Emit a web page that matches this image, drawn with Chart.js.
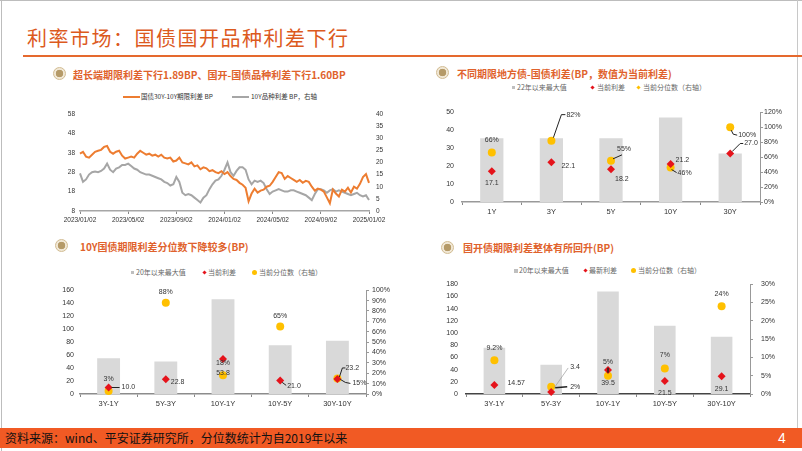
<!DOCTYPE html>
<html>
<head>
<meta charset="utf-8">
<script src="https://cdn.jsdelivr.net/npm/chart.js@4.4.1/dist/chart.umd.min.js"></script>
<style>
  body { margin: 0; }
  #slide { position: relative; width: 802px; height: 451px; background: #fff; overflow: hidden;
           font-family: "Noto Sans CJK SC", "Noto Sans", sans-serif; }
  .abs { position: absolute; }
  .ptitle { position: absolute; font-size: 10px; font-weight: bold; color: #E0622C; white-space: nowrap; line-height: 14px; }
  .icon { position: absolute; width: 11px; height: 11px; border-radius: 50%; border: 1.5px solid #D2BC92;
          background: radial-gradient(circle, #B59A68 0 45%, #F1E8D6 52%); }
  .lg { position: absolute; font-size: 7px; color: #666; white-space: nowrap; line-height: 9px; }
  canvas { position: absolute; }
</style>
</head>
<body>
<div id="slide">
  <!-- frame -->
  <div class="abs" style="left:0;top:0;width:802px;height:1px;background:#BDBDBD"></div>
  <div class="abs" style="left:1px;top:0;width:1px;height:451px;background:#BDBDBD"></div>
  <div class="abs" style="left:797px;top:0;width:1px;height:428px;background:#C8C8C8"></div>

  <div class="abs" style="left:27px;top:24px;font-size:20px;letter-spacing:1.5px;color:#DC5A1E;line-height:28px;white-space:nowrap">利率市场：国债国开品种利差下行</div>
  <div class="abs" style="left:23px;top:55px;width:779px;height:2px;background:#E5692E"></div>

  <!-- panel titles -->
  <div class="icon" style="left:53px;top:67px"></div>
  <div class="ptitle" style="left:73px;top:68px">超长端期限利差下行1.89BP、国开-国债品种利差下行1.60BP</div>
  <div class="icon" style="left:436px;top:66px"></div>
  <div class="ptitle" style="left:457px;top:67px">不同期限地方债-国债利差(BP，数值为当前利差)</div>
  <div class="icon" style="left:55px;top:239px"></div>
  <div class="ptitle" style="left:80px;top:240px">10Y国债期限利差分位数下降较多(BP)</div>
  <div class="icon" style="left:441px;top:241px"></div>
  <div class="ptitle" style="left:463px;top:241px">国开债期限利差整体有所回升(BP)</div>

  <!-- legend chart 1 -->
  <div class="abs" style="left:123px;top:96px;width:17px;height:2px;background:#ED7D31"></div>
  <div class="lg" style="left:141px;top:92px;font-size:6.5px;color:#333">国债30Y-10Y期限利差 BP</div>
  <div class="abs" style="left:232px;top:96px;width:17px;height:2px;background:#A6A6A6"></div>
  <div class="lg" style="left:251px;top:92px;font-size:6.5px;color:#333">10Y品种利差 BP，右轴</div>

  <!-- legend chart 2 -->
  <div class="abs" style="left:512px;top:86px;width:3px;height:3px;background:#BFBFBF"></div>
  <div class="lg" style="left:517px;top:83px">22年以来最大值</div>
  <div class="abs" style="left:591px;top:86px;width:3px;height:3px;background:#E5131B;transform:rotate(45deg)"></div>
  <div class="lg" style="left:597px;top:83px">当前利差</div>
  <div class="abs" style="left:637px;top:86px;width:3px;height:3px;background:#FFC000;transform:rotate(45deg)"></div>
  <div class="lg" style="left:643px;top:83px">当前分位数（右轴）</div>

  <!-- legend chart 3 -->
  <div class="abs" style="left:131px;top:271px;width:3px;height:3px;background:#BFBFBF"></div>
  <div class="lg" style="left:136px;top:268px">20年以来最大值</div>
  <div class="abs" style="left:203px;top:271px;width:3px;height:3px;background:#E5131B;transform:rotate(45deg)"></div>
  <div class="lg" style="left:208px;top:268px">当前利差</div>
  <div class="abs" style="left:252px;top:270px;width:5px;height:5px;border-radius:50%;background:#FFC000"></div>
  <div class="lg" style="left:259px;top:268px">当前分位数（右轴）</div>

  <!-- legend chart 4 -->
  <div class="abs" style="left:514px;top:269px;width:4px;height:4px;background:#BFBFBF"></div>
  <div class="lg" style="left:519px;top:266px">20年以来最大值</div>
  <div class="abs" style="left:584px;top:269px;width:3px;height:3px;background:#E5131B;transform:rotate(45deg)"></div>
  <div class="lg" style="left:589px;top:266px">最新利差</div>
  <div class="abs" style="left:631px;top:268px;width:5px;height:5px;border-radius:50%;background:#FFC000"></div>
  <div class="lg" style="left:638px;top:266px">当前分位数（右轴）</div>

  <canvas id="c1" width="350" height="125" style="left:50px;top:103px"></canvas>
  <canvas id="c2" width="400" height="118" style="left:400px;top:100px"></canvas>
  <canvas id="c3" width="350" height="130" style="left:50px;top:280px"></canvas>
  <canvas id="c4" width="400" height="138" style="left:400px;top:272px"></canvas>

  <!-- footer -->
  <div class="abs" style="left:0;top:428px;width:802px;height:20px;background:#F15A24"></div>
  <div class="abs" style="left:5px;top:429px;font-size:12px;line-height:18px;color:#111;white-space:nowrap">资料来源：wind、平安证券研究所，分位数统计为自2019年以来</div>
  <div class="abs" style="left:778px;top:428px;font-size:14px;line-height:20px;color:#fff;font-family:'Liberation Sans',Arial,sans-serif">4</div>
</div>

<script>
// ---------- data ----------
const dateTicks = ['2023/01/02', '2023/05/02', '2023/09/02', '2024/01/02', '2024/05/02', '2024/09/02', '2025/01/02'];
const tickEvery = 16;

// 国债30Y-10Y期限利差 BP (left axis)
const spread30y10y = [
  37.5, 38.5, 36, 35.5, 37, 38.5, 39, 39.5, 41, 41.5, 38.5, 37.5, 38.5, 39, 36.5, 35,
  35.5, 36, 35.5, 37.5, 39, 38, 37, 37.5, 36.5, 37, 36, 37, 35.5, 35, 35.5, 33.5,
  34, 35.5, 33, 32.5, 32, 33, 31, 31.5, 29.5, 30.5, 30, 28.5, 29, 28, 27.5, 28.5,
  27, 28, 26, 24.5, 24, 22.5, 21.5, 20, 13, 17, 19.5, 17.5, 18.5, 19, 20.5, 21,
  23, 25.5, 28, 27.5, 24.5, 26, 25, 24, 23, 24, 22.5, 23.5, 23, 20.5, 18.5, 19.5,
  19, 18, 15, 12, 19, 17, 15.5, 19, 18, 20, 17.5, 20.5, 19.5, 22, 25.5, 27, 22.5
];
// 10Y品种利差 BP (right axis)
const spread10yKind = [
  15.5, 12, 13, 15, 16, 16.3, 16, 16.5, 17.5, 19.5, 17, 16, 17.5, 18, 19, 19,
  19.5, 18.5, 17.5, 17, 16, 15.5, 15, 15, 14.5, 14, 13.5, 13, 12, 11.5, 10.5, 11,
  14, 12, 7.5, 6.5, 7, 6.5, 5.5, 4.5, 3.5, 5.5, 6.5, 9, 11, 12.5, 13, 14.5,
  17, 20, 16, 14.5, 16.5, 18, 18, 17, 13, 11, 12.5, 12, 12.5, 11.5, 9, 7,
  8, 8.5, 9, 8.5, 8, 8, 8.5, 8.5, 8, 7.5, 7, 6.5, 5.5, 4.5, 7, 9,
  9, 8.5, 7.5, 8.5, 9, 8, 8.5, 8, 7.5, 7, 6.5, 7, 7.5, 6.5, 6, 6.5, 4.5
];

const localTerms = ['1Y', '3Y', '5Y', '10Y', '30Y'];
const localMax = [35.5, 35.5, 35.5, 47, 27.0];
const localNow = [17.1, 22.1, 18.2, 21.2, 27.0];
const localPct = [0.66, 0.82, 0.55, 0.46, 1.00];

const govTerms = ['3Y-1Y', '5Y-3Y', '10Y-1Y', '10Y-5Y', '30Y-10Y'];
const govMax = [55, 50, 146, 75, 82];
const govNow = [10.0, 22.8, 53.8, 21.0, 23.2];
const govPct = [0.03, 0.88, 0.18, 0.65, 0.15];

const cdbTerms = ['3Y-1Y', '5Y-3Y', '10Y-1Y', '10Y-5Y', '30Y-10Y'];
const cdbMax = [76, 48, 168, 112, 94];
const cdbNow = [14.57, 3.4, 39.5, 21.5, 29.1];
const cdbPct = [0.092, 0.02, 0.05, 0.07, 0.24];

// ---------- label placement (pixel offsets from each point) ----------
const localNowPos = [
  { dx: 0, dy: 12 },
  { dx: 10, dy: 4, align: 'left' },
  { dx: 4, dy: 10, align: 'left' },
  { dx: 5, dy: -4, align: 'left' },
  { dx: 14, dy: -10, align: 'left', line: [[2, -2], [10, -10], [13, -10]] }
];
const localPctPos = [
  { dx: 0, dy: -13 },
  { dx: 15, dy: -26, align: 'left', line: [[2, -3], [10, -26], [14, -26]] },
  { dx: 6, dy: -12, align: 'left', line: [[2, -2], [11, -6]] },
  { dx: 7, dy: 5, align: 'left', line: [[1, 2], [6, 5]] },
  { dx: 8, dy: 8, align: 'left', line: [[1, 3], [3, 7], [7, 8]] }
];
const govNowPos = [
  { dx: 13, dy: 0, align: 'left', line: [[3, 0], [11, 0]] },
  { dx: 5, dy: 3, align: 'left' },
  { dx: 0, dy: 14 },
  { dx: 7, dy: 6, align: 'left', line: [[2, 2], [6, 5]] },
  { dx: 8, dy: -11, align: 'left', line: [[2, -2], [5, -11], [8, -11]] }
];
const govPctPos = [
  { dx: 0, dy: -12 },
  { dx: 0, dy: -11 },
  { dx: 0, dy: -12 },
  { dx: 0, dy: -10 },
  { dx: 15, dy: 5, align: 'left', line: [[3, 1], [8, 4], [13, 5]] }
];
const cdbNowPos = [
  { dx: 13, dy: -2, align: 'left' },
  { dx: 19, dy: -25, align: 'left', line: [[3, -4], [17, -24]], lineColor: '#999', lineWidth: 0.7 },
  { dx: 0, dy: 13 },
  { dx: 0, dy: 12 },
  { dx: 0, dy: 13 }
];
const cdbPctPos = [
  { dx: 0, dy: -12 },
  { dx: 19, dy: 0, align: 'left', line: [[4, 1], [16, 0]], lineWidth: 1.5 },
  { dx: 0, dy: -14, line: [[0, -3], [0, -8]], lineWidth: 1.5 },
  { dx: 0, dy: -13 },
  { dx: 0, dy: -12 }
];

const NUM_FONT = '"Liberation Sans", Arial, sans-serif';
const RED = '#E5131B';
const YELLOW = '#FFC000';
const BAR = '#D9D9D9';

const fmtNum = v => v.toFixed(Math.max(1, (String(v).split('.')[1] || '').length));
const fmtPct = v => (+(v * 100).toFixed(1)) + '%';

// draws data labels + leader lines
const pointLabels = {
  id: 'pointLabels',
  afterDraw(chart) {
    const ctx = chart.ctx;
    chart.data.datasets.forEach((ds, di) => {
      if (!ds.labelPos) return;
      const meta = chart.getDatasetMeta(di);
      meta.data.forEach((pt, i) => {
        const p = ds.labelPos[i];
        if (!p) return;
        ctx.save();
        if (p.line) {
          ctx.strokeStyle = p.lineColor || '#222';
          ctx.lineWidth = p.lineWidth || 1;
          ctx.beginPath();
          p.line.forEach(([lx, ly], k) => {
            if (k === 0) ctx.moveTo(pt.x + lx, pt.y + ly);
            else ctx.lineTo(pt.x + lx, pt.y + ly);
          });
          ctx.stroke();
        }
        ctx.font = '7px ' + NUM_FONT;
        ctx.fillStyle = '#333';
        ctx.textAlign = p.align || 'center';
        ctx.textBaseline = 'middle';
        ctx.fillText(ds.labelFmt(ds.data[i]), pt.x + p.dx, pt.y + p.dy);
        ctx.restore();
      });
    });
  }
};

Chart.defaults.font.family = NUM_FONT;
Chart.defaults.color = '#333';
Chart.defaults.animation = false;

// ---------- chart 1: line ----------
new Chart(document.getElementById('c1'), {
  type: 'line',
  data: {
    labels: spread30y10y.map((_, i) => i),
    datasets: [
      { data: spread30y10y, borderColor: '#ED7D31', borderWidth: 2, pointRadius: 0, yAxisID: 'y', tension: 0 },
      { data: spread10yKind, borderColor: '#A6A6A6', borderWidth: 2, pointRadius: 0, yAxisID: 'y1', tension: 0 }
    ]
  },
  options: {
    responsive: false,
    layout: { padding: { top: 8 } },
    plugins: { legend: { display: false }, tooltip: { enabled: false } },
    scales: {
      x: {
        afterFit: s => { s.height = 17; },
        border: { display: true, color: '#A6A6A6', width: 1.5 },
        grid: {
          drawOnChartArea: false, drawTicks: true, tickLength: 3,
          color: c => (c.index % tickEvery === 0 ? '#888' : 'rgba(0,0,0,0)')
        },
        ticks: {
          autoSkip: false, maxRotation: 0, padding: 2, font: { size: 6.5 },
          callback: (v, i) => (i % tickEvery === 0 ? dateTicks[i / tickEvery] : '')
        }
      },
      y: {
        position: 'left', min: 8, max: 58,
        afterFit: s => { s.width = 30; },
        border: { display: false },
        grid: { display: false, drawTicks: false },
        ticks: { stepSize: 10, padding: 5, autoSkip: false, font: { size: 6.5 } }
      },
      y1: {
        position: 'right', min: 0, max: 40,
        afterFit: s => { s.width = 31; },
        border: { display: false },
        grid: { display: false, drawTicks: false },
        ticks: { stepSize: 5, padding: 7, autoSkip: false, font: { size: 6.5 } }
      }
    }
  }
});

// ---------- charts 2-4: bar + markers ----------
function pctChart(id, cfg) {
  return new Chart(document.getElementById(id), {
    type: 'bar',
    data: {
      labels: cfg.terms,
      datasets: [
        {
          type: 'line', data: cfg.now, yAxisID: 'y', showLine: false, order: 0, clip: false,
          pointStyle: 'rectRot', pointRadius: 4, pointBackgroundColor: RED, pointBorderWidth: 0,
          labelPos: cfg.nowPos, labelFmt: fmtNum
        },
        {
          type: 'line', data: cfg.pct, yAxisID: 'y1', showLine: false, order: 1, clip: false,
          pointStyle: 'circle', pointRadius: 4, pointBackgroundColor: YELLOW, pointBorderWidth: 0,
          labelPos: cfg.pctPos, labelFmt: fmtPct
        },
        {
          data: cfg.max, yAxisID: 'y', backgroundColor: BAR, order: 2,
          categoryPercentage: 1, barPercentage: cfg.barPct
        }
      ]
    },
    options: {
      responsive: false,
      layout: { padding: { top: cfg.top } },
      plugins: { legend: { display: false }, tooltip: { enabled: false } },
      scales: {
        x: {
          afterFit: s => { s.height = cfg.xh; },
          border: { display: true, color: cfg.axisColor, width: 1.5 },
          grid: { drawOnChartArea: false, drawTicks: true, tickLength: 3, color: '#888' },
          ticks: { padding: 2, font: { size: 7.5 } }
        },
        y: {
          position: 'left', min: 0, max: cfg.leftMax,
          afterFit: s => { s.width = cfg.lw; },
          border: { display: false },
          grid: { display: false, drawTicks: false },
          ticks: { stepSize: cfg.leftStep, padding: cfg.lpad, autoSkip: false, font: { size: 7 } }
        },
        y1: {
          position: 'right', min: 0, max: cfg.rightMax,
          afterFit: s => { s.width = cfg.rw; },
          border: { display: true, color: '#999', width: 1 },
          grid: { drawOnChartArea: false, drawTicks: true, tickLength: 3, color: '#999' },
          ticks: {
            stepSize: cfg.rightStep, padding: cfg.rpad, autoSkip: false, font: { size: 7 },
            callback: v => Math.round(v * 100) + '%'
          }
        }
      }
    },
    plugins: [pointLabels]
  });
}

pctChart('c2', {
  terms: localTerms, max: localMax, now: localNow, pct: localPct,
  nowPos: localNowPos, pctPos: localPctPos,
  barPct: 0.39, top: 7, xh: 16, lw: 62, rw: 40, lpad: 8, rpad: 1,
  leftMax: 50, leftStep: 10, rightMax: 1.2, rightStep: 0.2, axisColor: '#999'
});
pctChart('c3', {
  terms: govTerms, max: govMax, now: govNow, pct: govPct,
  nowPos: govNowPos, pctPos: govPctPos,
  barPct: 0.40, top: 8, xh: 16, lw: 30, rw: 34, lpad: 6, rpad: 3,
  leftMax: 160, leftStep: 20, rightMax: 1, rightStep: 0.1, axisColor: '#8C8C8C'
});
pctChart('c4', {
  terms: cdbTerms, max: cdbMax, now: cdbNow, pct: cdbPct,
  nowPos: cdbNowPos, pctPos: cdbPctPos,
  barPct: 0.38, top: 8, xh: 16, lw: 66, rw: 50, lpad: 8, rpad: 8,
  leftMax: 180, leftStep: 20, rightMax: 0.3, rightStep: 0.05, axisColor: '#444'
});
</script>
</body>
</html>
